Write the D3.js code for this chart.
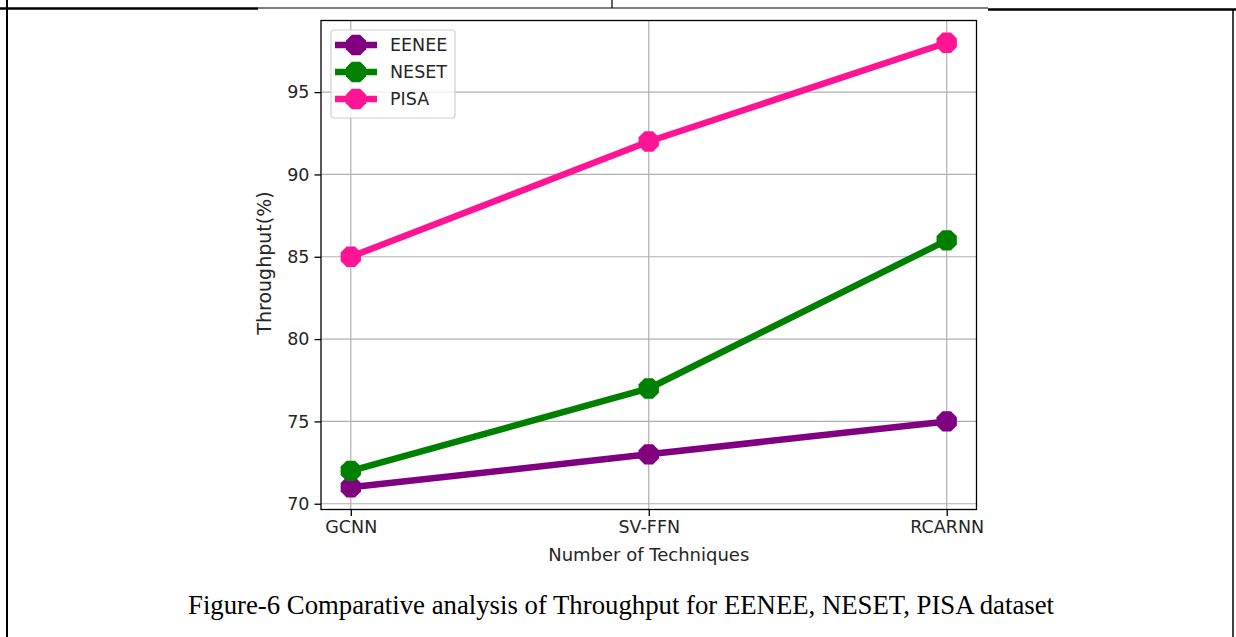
<!DOCTYPE html>
<html>
<head>
<meta charset="utf-8">
<script src="https://cdn.jsdelivr.net/npm/d3@7"></script>
<style>
  html, body { margin: 0; padding: 0; background: #fff; }
  svg { display: block; }
  text { font-family: "DejaVu Sans", sans-serif; fill: #262626; }
</style>
</head>
<body>
<svg id="chart" width="1236" height="637"></svg>
<script>
// Chart data
const categories = ["GCNN", "SV-FFN", "RCARNN"];
const seriesNames = ["EENEE", "NESET", "PISA"];
const eeneeValues = [71, 73, 75];
const nesetValues = [72, 77, 86];
const pisaValues = [85, 92, 98];
const yTicks = [70, 75, 80, 85, 90, 95];
const seriesColors = ["#800080", "#008000", "#ff1493"];
const captionText = "Figure-6 Comparative analysis of Throughput for EENEE, NESET, PISA dataset";

const series = seriesNames.map((name, i) => ({
  name,
  color: seriesColors[i],
  values: [eeneeValues, nesetValues, pisaValues][i]
}));

const svg = d3.select("#chart");

// Document table borders around the figure
const frame = svg.append("g").attr("stroke", "#000").attr("fill", "none");
frame.append("line").attr("x1", 0).attr("x2", 258).attr("y1", 8.5).attr("y2", 8.5).attr("stroke-width", 2.5);
frame.append("line").attr("x1", 258).attr("x2", 988).attr("y1", 8).attr("y2", 8).attr("stroke-width", 1.2);
frame.append("line").attr("x1", 988).attr("x2", 1236).attr("y1", 9.5).attr("y2", 9.5).attr("stroke-width", 2.5);
frame.append("line").attr("x1", 612).attr("x2", 612).attr("y1", 0).attr("y2", 8).attr("stroke-width", 1.2);
frame.append("line").attr("x1", 7).attr("x2", 7).attr("y1", 0).attr("y2", 637).attr("stroke-width", 2);
frame.append("line").attr("x1", 1233).attr("x2", 1233).attr("y1", 9).attr("y2", 637).attr("stroke-width", 1.5);

// Plot area
const plot = { left: 321, right: 976.5, top: 20.5, bottom: 509.5 };

const x = d3.scaleLinear()
  .domain([-0.1, categories.length - 1 + 0.1])
  .range([plot.left, plot.right]);

const allVals = series.flatMap(s => s.values);
const yMin = d3.min(allVals), yMax = d3.max(allVals);
const pad = (yMax - yMin) * 0.05;
const y = d3.scaleLinear()
  .domain([yMin - pad, yMax + pad])
  .range([plot.bottom, plot.top]);

// Grid
const grid = svg.append("g").attr("stroke", "#b0b0b0").attr("stroke-width", 1.2);
categories.forEach((c, i) => {
  grid.append("line")
    .attr("x1", x(i)).attr("x2", x(i))
    .attr("y1", plot.top).attr("y2", plot.bottom);
});
yTicks.forEach(t => {
  grid.append("line")
    .attr("x1", plot.left).attr("x2", plot.right)
    .attr("y1", y(t)).attr("y2", y(t));
});

// Axes
const fontSize = 17.5;
const xAxis = d3.axisBottom(x)
  .tickValues(categories.map((c, i) => i))
  .tickFormat(i => categories[i])
  .tickSize(6.5).tickPadding(5);
const yAxis = d3.axisLeft(y)
  .tickValues(yTicks)
  .tickSize(6.5).tickPadding(5);

const gx = svg.append("g").attr("transform", `translate(0,${plot.bottom})`).call(xAxis);
const gy = svg.append("g").attr("transform", `translate(${plot.left},0)`).call(yAxis);
[gx, gy].forEach(g => {
  g.select(".domain").remove();
  g.selectAll(".tick line").attr("stroke", "#000").attr("stroke-width", 1.3);
  g.selectAll(".tick text")
    .attr("fill", "#262626")
    .style("font-family", "'DejaVu Sans', sans-serif")
    .style("font-size", fontSize + "px");
});

// Series lines and octagon markers
const line = d3.line().x((d, i) => x(i)).y(d => y(d));
const markerR = 11;
const octagon = r => {
  const pts = d3.range(8).map(k => {
    const a = Math.PI / 8 + k * Math.PI / 4;
    return [r * Math.cos(a), r * Math.sin(a)];
  });
  return "M" + pts.map(p => p.join(",")).join("L") + "Z";
};

series.forEach(s => {
  const g = svg.append("g");
  g.append("path")
    .datum(s.values)
    .attr("d", line)
    .attr("fill", "none")
    .attr("stroke", s.color)
    .attr("stroke-width", 6.5)
    .attr("stroke-linejoin", "round");
  g.selectAll("path.marker")
    .data(s.values)
    .join("path")
    .attr("class", "marker")
    .attr("d", octagon(markerR))
    .attr("transform", (d, i) => `translate(${x(i)},${y(d)})`)
    .attr("fill", s.color);
});

// Spines
svg.append("rect")
  .attr("x", plot.left).attr("y", plot.top)
  .attr("width", plot.right - plot.left)
  .attr("height", plot.bottom - plot.top)
  .attr("fill", "none").attr("stroke", "#000").attr("stroke-width", 1.3);

// Axis titles
svg.append("text")
  .attr("x", (plot.left + plot.right) / 2)
  .attr("y", 561)
  .attr("text-anchor", "middle")
  .style("font-size", "18px")
  .text("Number of Techniques");

svg.append("text")
  .attr("transform", `translate(271,${(plot.top + plot.bottom) / 2 - 2}) rotate(-90)`)
  .attr("text-anchor", "middle")
  .style("font-size", "19px")
  .text("Throughput(%)");

// Legend
const legend = svg.append("g").attr("transform", "translate(331,30)");
legend.append("rect")
  .attr("x", 0).attr("y", 0).attr("width", 124).attr("height", 88)
  .attr("rx", 3)
  .attr("fill", "#fff").attr("fill-opacity", 0.8)
  .attr("stroke", "#d0d0d0").attr("stroke-width", 1.2);
series.forEach((s, i) => {
  const cy = 15 + i * 27;
  legend.append("line")
    .attr("x1", 4).attr("x2", 46).attr("y1", cy).attr("y2", cy)
    .attr("stroke", s.color).attr("stroke-width", 6.5);
  legend.append("path")
    .attr("d", octagon(markerR))
    .attr("transform", `translate(25,${cy})`)
    .attr("fill", s.color);
  legend.append("text")
    .attr("x", 59).attr("y", cy)
    .attr("dy", "0.36em")
    .style("font-size", fontSize + "px")
    .text(s.name);
});

// Figure caption
svg.append("text")
  .attr("x", 621)
  .attr("y", 614)
  .attr("text-anchor", "middle")
  .attr("textLength", 866)
  .attr("lengthAdjust", "spacingAndGlyphs")
  .style("font-family", "'Liberation Serif', 'Times New Roman', serif")
  .style("font-size", "27px")
  .style("fill", "#000")
  .text(captionText);
</script>
</body>
</html>
